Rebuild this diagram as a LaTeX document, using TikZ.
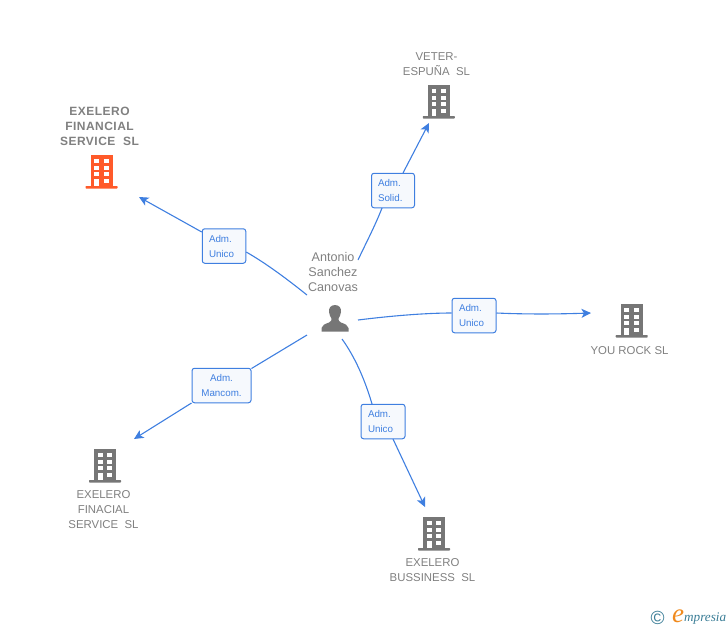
\documentclass[tikz,border=0pt]{standalone}
\usepackage{fontspec}
\setmainfont{Liberation Sans}
\newfontfamily\logofont{Liberation Serif}
\definecolor{linkblue}{HTML}{3F7FE0}
\definecolor{boxfill}{HTML}{F6F9FD}
\definecolor{txtgrey}{HTML}{808080}
\definecolor{bldgrey}{HTML}{767676}
\definecolor{bldorange}{HTML}{FF5A2A}
\definecolor{logoteal}{HTML}{3A7D96}
\definecolor{logoorange}{HTML}{F08A1E}
\usetikzlibrary{arrows.meta}
\tikzset{
  x=1pt,y=-1pt,
  link/.style={draw=linkblue,line width=1.1pt},
  linkarrow/.style={link,-{Stealth[length=9.5pt,width=9pt,inset=2.5pt]}},
  rolebox/.style={draw=linkblue,fill=boxfill,rounded corners=2.5pt,line width=1pt,inner sep=0pt,
    text=linkblue,font=\fontsize{9.8}{15}\selectfont,minimum height=34.5pt},
  shortrole/.style={rolebox,text width=30pt,align=left},
  namelabel/.style={text=txtgrey,font=\fontsize{11.4}{15}\selectfont,align=center,inner sep=0pt},
  boldlabel/.style={text=txtgrey,font=\fontsize{12}{15}\selectfont\bfseries\addfontfeatures{LetterSpace=4},align=center,inner sep=0pt},
  personlabel/.style={text=txtgrey,font=\fontsize{12.6}{15}\selectfont,align=center,inner sep=0pt},
  pics/building/.style={code={
    \fill[#1] (-11,0) rectangle (11,31);
    \fill[#1,rounded corners=0.6pt] (-16,31) rectangle (16,33.5);
    \foreach \yy in {4,10.8,17.4}{
      \fill[white] (-7.3,\yy) rectangle (-2.4,\yy+3.9);
      \fill[white] (2.4,\yy) rectangle (7.4,\yy+3.9);
    }
    \fill[white] (-7.3,23.5) rectangle (-2.4,31);
    \fill[white] (2.4,23.5) rectangle (7.4,28);
  }}
}
\begin{document}
\begin{tikzpicture}
\useasboundingbox (0,0) rectangle (728,630);
% buildings
\pic at (101.5,155) {building=bldorange};
\pic at (438.8,85) {building=bldgrey};
\pic at (631.7,304) {building=bldgrey};
\pic at (105,449) {building=bldgrey};
\pic at (434,517) {building=bldgrey};
% person
\fill[bldgrey] (335,305) .. controls (330.5,305) and (328.5,308.5) .. (329,312)
  .. controls (329.3,315) and (330.5,317) .. (331.5,318.5)
  .. controls (332,320) and (331,321.5) .. (329,322.5)
  .. controls (325,324) and (322,325) .. (321.5,328)
  -- (321.5,331.5) -- (348.5,331.5) -- (348.5,328)
  .. controls (348,325) and (345,324) .. (341,322.5)
  .. controls (339,321.5) and (338,320) .. (338.5,318.5)
  .. controls (339.5,317) and (340.7,315) .. (341,312)
  .. controls (341.5,308.5) and (339.5,305) .. (335,305) -- cycle;
% labels
\node[boldlabel] (n1) at (99.5,126) {EXELERO\\FINANCIAL\\SERVICE\ \ SL};
\node[namelabel] (n2) at (436.5,64) {VETER-\\ESPUÑA\ \ SL};
\node[namelabel] (n3) at (629.5,350.5) {YOU ROCK SL};
\node[namelabel] (n4) at (103.5,509.5) {EXELERO\\FINACIAL\\SERVICE\ \ SL};
\node[namelabel] (n5) at (432.5,570) {EXELERO\\BUSSINESS\ \ SL};
\node[personlabel] (person) at (333,271.5) {Antonio\\Sanchez\\Canovas};
% role boxes
\node[shortrole,minimum width=43.5pt] (r1) at (224,246) {Adm.\\Unico};
\node[shortrole,minimum width=43pt] (r2) at (393,190.5) {Adm.\\Solid.};
\node[shortrole,minimum width=44pt] (r3) at (474,315.5) {Adm.\\Unico};
\node[rolebox,minimum width=59pt,align=center] (r4) at (221.5,385.5) {Adm.\\Mancom.};
\node[shortrole,minimum width=44pt] (r5) at (383,421.5) {Adm.\\Unico};
% free ends
\coordinate (s1) at (307,295);
\coordinate (s2) at (358,260);
\coordinate (s3) at (358,320);
\coordinate (s4) at (307,335);
\coordinate (s5) at (342,339);
\coordinate (e1) at (139,197);
\coordinate (e2) at (429,123);
\coordinate (e3) at (591,313);
\coordinate (e4) at (134,439);
\coordinate (e5) at (425,507);
% connectors
\draw[link] (s1) .. controls (287,279) and (267,264) .. (r1.east|-0,252);
\draw[linkarrow] (r1.west|-0,232) -- (e1);
\draw[link] (s2) .. controls (366,243) and (375,226) .. (382,208);
\draw[linkarrow] (403,173) -- (e2);
\draw[link] (s3) .. controls (390,316) and (425,313) .. (r3.west|-0,313);
\draw[linkarrow] (r3.east|-0,313) .. controls (530,314.5) and (560,314) .. (e3);
\draw[link] (s4) -- (r4.east|-0,368.5);
\draw[linkarrow] (r4.west|-0,403) -- (e4);
\draw[link] (s5) .. controls (355,357) and (365,380) .. (372,404);
\draw[linkarrow] (393,439) -- (e5);
% logo
\node[inner sep=0pt,text=logoteal,font=\fontsize{19}{19}\selectfont] (c) at (657.5,618) {©};
\node[inner sep=0pt,text=logoorange,font=\logofont\itshape\fontsize{27}{27}\selectfont] (l1) at (678,616.5) {e};
\node[inner sep=0pt,text=logoteal,font=\logofont\itshape\fontsize{13.2}{14}\selectfont,anchor=west] (l2) at (684,618.5) {mpresia};
\end{tikzpicture}
\end{document}
